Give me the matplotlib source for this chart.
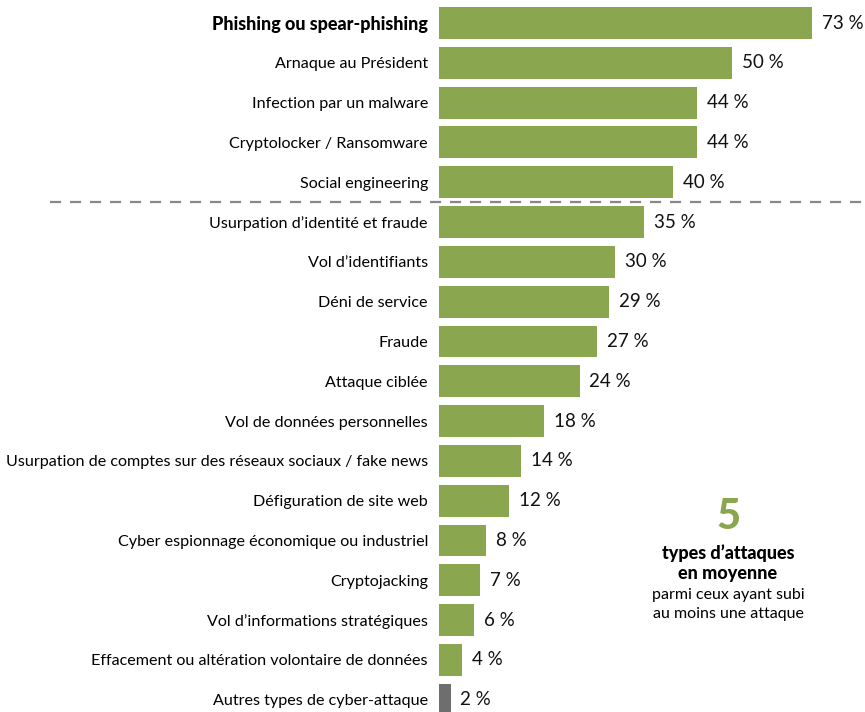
import matplotlib
matplotlib.use("Agg")
import matplotlib.pyplot as plt
from matplotlib.lines import Line2D
from matplotlib.transforms import blended_transform_factory

# Attack types and share of respondents (%)
categories = [
    "Phishing ou spear-phishing",
    "Arnaque au Président",
    "Infection par un malware",
    "Cryptolocker / Ransomware",
    "Social engineering",
    "Usurpation d\u2019identité et fraude",
    "Vol d\u2019identifiants",
    "Déni de service",
    "Fraude",
    "Attaque ciblée",
    "Vol de données personnelles",
    "Usurpation de comptes sur des réseaux sociaux / fake news",
    "Défiguration de site web",
    "Cyber espionnage économique ou industriel",
    "Cryptojacking",
    "Vol d\u2019informations stratégiques",
    "Effacement ou altération volontaire de données",
    "Autres types de cyber-attaque",
]
values = [73, 50, 44, 44, 40, 35, 30, 29, 27, 24, 18, 14, 12, 8, 7, 6, 4, 2]
top_group = 5  # first rows above the dashed separator

GREEN = "#8aa64e"
GREY = "#6e6e6e"
plt.rcParams["font.family"] = ["Lato", "DejaVu Sans"]

fig = plt.figure(figsize=(8.65, 7.12), dpi=100)
# axes starts where the bars start, runs to the right edge
ax = fig.add_axes([439 / 865, 0, 1 - 439 / 865, 1])

x_max = 72.7
bar_cap = 63.7  # the longest bar is shown truncated, as in the original

rows = list(range(len(categories)))
shown = [min(v, bar_cap) for v in values]
colors = [GREEN] * (len(values) - 1) + [GREY]
ax.barh(rows, shown, height=0.8, color=colors)

for r, v, s in zip(rows, values, shown):
    ax.annotate(f"{v} %", xy=(s, r), xytext=(7, 0), textcoords="offset points",
                va="center", ha="left", fontsize=13.5, color="#111111",
                annotation_clip=False)

ax.set_xlim(0, x_max)
ax.set_ylim(17.31, -0.578)
ax.set_yticks(rows, categories, fontsize=11.6)
ax.tick_params(axis="y", length=0, pad=8)
ax.set_xticks([])
for sp in ax.spines.values():
    sp.set_visible(False)
first = ax.get_yticklabels()[0]
first.set_fontweight("black")
first.set_fontsize(13)

# dashed separator between the top group and the rest
tr = blended_transform_factory(fig.transFigure, ax.transData)
fig.add_artist(Line2D([50 / 865, 1], [top_group - 0.5] * 2, transform=tr,
                      color="#888888", lw=1.6, ls=(0, (5, 4))))

# side note
cx = 728 / 865
fig.text(cx, 1 - 517 / 712, "5", color=GREEN, fontsize=30, fontweight="black",
         ha="center", va="center")
fig.text(cx, 1 - 553 / 712, "types d\u2019attaques", fontsize=13, fontweight="black",
         ha="center", va="center")
fig.text(cx, 1 - 573 / 712, "en moyenne", fontsize=13, fontweight="black",
         ha="center", va="center")
fig.text(cx, 1 - 595 / 712, "parmi ceux ayant subi", fontsize=11.5,
         ha="center", va="center")
fig.text(cx, 1 - 614 / 712, "au moins une attaque", fontsize=11.5,
         ha="center", va="center")

fig.savefig("out.png", dpi=100)
